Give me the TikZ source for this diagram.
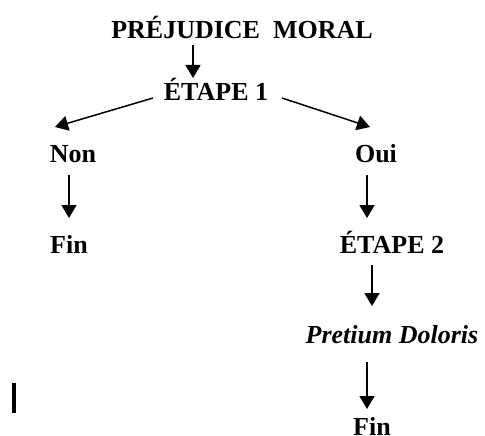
\documentclass[tikz,border=0pt]{standalone}
\usepackage{fontspec}
\setmainfont{Liberation Serif}
\usetikzlibrary{arrows.meta}
\begin{document}
\begin{tikzpicture}[x=1pt,y=-1pt,
 lbl/.style={font=\fontsize{26}{30}\selectfont\bfseries, anchor=base, inner sep=0pt},
 arr/.style={line width=1.5pt, -{Triangle[width=15pt,length=13pt]}}]
\useasboundingbox (0,0) rectangle (485,436);
\node[lbl] (pm) at (242,39) {PRÉJUDICE\ \ MORAL};
\node[lbl] (e1) at (216,100) {ÉTAPE 1};
\node[lbl] (non) at (73,162) {Non};
\node[lbl] (oui) at (376,162) {Oui};
\node[lbl] (fin1) at (69,253) {Fin};
\node[lbl] (e2) at (392,253) {ÉTAPE 2};
\node[lbl, font=\fontsize{26}{30}\selectfont\bfseries\itshape] (pd) at (392,343) {Pretium Doloris};
\node[lbl] (fin2) at (372,435) {Fin};
% arrow endpoints
\coordinate (a1s) at (193,45);   \coordinate (a1e) at (193,78);
\coordinate (a2s) at (153,98);   \coordinate (a2e) at (55,127);
\coordinate (a3s) at (282,98);   \coordinate (a3e) at (370,127);
\coordinate (a4s) at (69,175);   \coordinate (a4e) at (69,218);
\coordinate (a5s) at (367,175);  \coordinate (a5e) at (367,218);
\coordinate (a6s) at (372,265);  \coordinate (a6e) at (372,306);
\coordinate (a7s) at (367,362);  \coordinate (a7e) at (367,409);
\draw[arr] (a1s) -- (a1e);
\draw[arr] (a2s) -- (a2e);
\draw[arr] (a3s) -- (a3e);
\draw[arr] (a4s) -- (a4e);
\draw[arr] (a5s) -- (a5e);
\draw[arr] (a6s) -- (a6e);
\draw[arr] (a7s) -- (a7e);
\fill (12,383) rectangle (16,413);
\end{tikzpicture}
\end{document}
